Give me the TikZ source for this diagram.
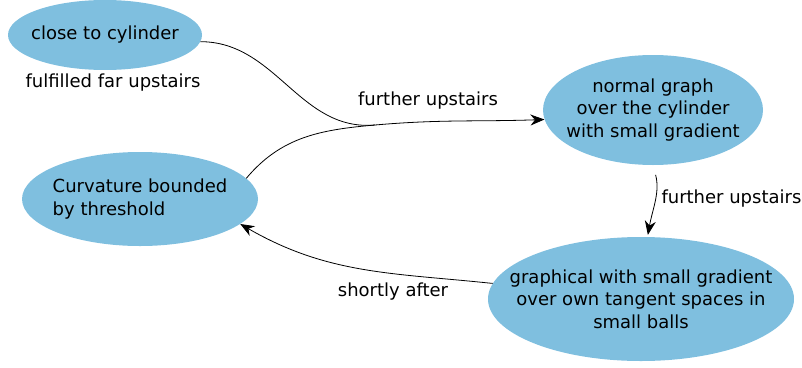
\documentclass[tikz,border=0pt]{standalone}
\usepackage{fontspec}
\setmainfont{DejaVu Sans}
\usepackage{tikz}
\usetikzlibrary{shapes.geometric}
\usetikzlibrary{arrows.meta}
\definecolor{ellblue}{RGB}{127,191,223}
\tikzset{
  phase/.style={ellipse, fill=ellblue, inner xsep=-30pt, inner ysep=0pt, align=center},
  trans/.style={line width=0.8pt, arrows = {-Stealth[width=11pt, length=14pt]}},
  plain/.style={line width=0.8pt}
}

\begin{document}
\begin{tikzpicture}[x=1pt, y=1pt, font=\fontsize{18}{22.5}\selectfont]
\useasboundingbox (0, 0) rectangle (802, -367);
\node[phase, minimum width=194, minimum height=70] (close_cyl) at (105, -35) {close to cylinder};
\node (far_up) at (113, -83) {fulfilled far upstairs};
\node[phase, minimum width=220, minimum height=110] (normal_graph) at (653, -110) {normal graph\\over the cylinder\\with small gradient};
\node[phase, minimum width=236, minimum height=94, align=left] (curv_bound) at (140, -199) {Curvature bounded\\by threshold};
\node[phase, minimum width=306, minimum height=124] (graph_balls) at (641, -299) {graphical with small gradient\\over own tangent spaces in\\small balls};
\coordinate (merge) at (375, -125);
\draw[plain] (close_cyl.-4) to[out=0, in=185] (merge);
\draw[plain] (curv_bound.11) to[out=50, in=185] (merge);
\draw[trans] (merge) to[out=5, in=182] (normal_graph.185);
\node (up_1) at (428, -101) {further upstairs};
\draw[trans, shorten <=10pt, shorten >=2pt] (normal_graph.south) to[out=-75, in=80] (graph_balls.84);
\node[anchor=west] (up_2) at (658, -199) {further upstairs};
\draw[trans] (graph_balls.174) to[out=174, in=-30] (curv_bound.-14);
\node (short_after) at (393, -292) {shortly after};
\end{tikzpicture}
\end{document}
